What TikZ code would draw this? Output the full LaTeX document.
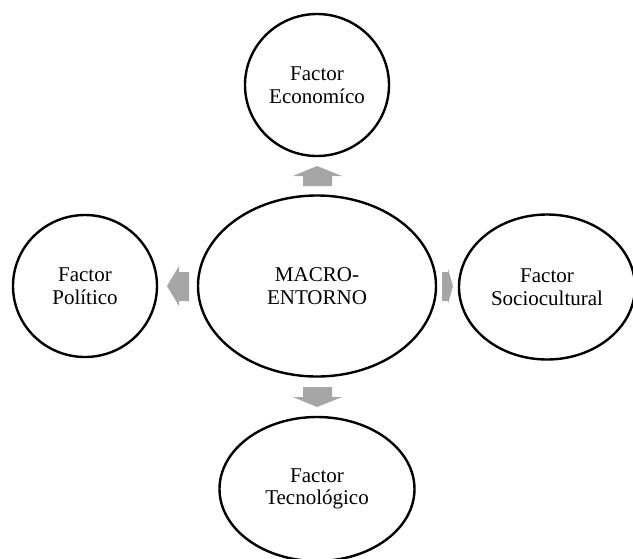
\documentclass[tikz,border=0pt]{standalone}
\usepackage{fontspec}
\setmainfont{Liberation Serif}
\usetikzlibrary{shapes.geometric}
\definecolor{arrowgray}{HTML}{A6A6A6}
\tikzset{
  bubble/.style={draw=black, line width=2.4pt, ellipse, inner sep=0pt,
    align=center, font=\fontsize{21}{22.5}\selectfont},
  blockarrow/.style={fill=arrowgray, draw=none}
}
\begin{document}
\begin{tikzpicture}[x=1pt,y=-1pt]
  \useasboundingbox (0,0) rectangle (633,558);
  \begin{scope}
  \clip (0,0) rectangle (633,558);
  % central ellipse and the four factors
  \node[bubble, minimum width=238pt, minimum height=181pt] (macro) at (317,286) {MACRO-\\ENTORNO};
  \node[bubble, minimum width=144pt, minimum height=142pt] (econ) at (317,85) {Factor\\Economíco};
  \node[bubble, minimum width=144pt, minimum height=142pt] (poli) at (85,286) {Factor\\Político};
  \node[bubble, minimum width=176pt, minimum height=145pt] (socio) at (547,287) {Factor\\Sociocultural};
  \node[bubble, minimum width=195pt, minimum height=144pt] (tecno) at (317,489) {Factor\\Tecnológico};
  \end{scope}
  % block arrows pointing from the centre outwards
  \fill[blockarrow] (317,166) -- (342,176) -- (332,176) -- (332,186) -- (303,186) -- (303,176) -- (293,176) -- cycle;
  \fill[blockarrow] (317,407) -- (342,397) -- (332,397) -- (332,387) -- (303,387) -- (303,397) -- (293,397) -- cycle;
  \fill[blockarrow] (167,286) -- (179,266) -- (179,272) -- (189,272) -- (189,301) -- (179,301) -- (179,306) -- cycle;
  \fill[blockarrow] (453,286) -- (448,269) -- (448,272) -- (442,272) -- (442,301) -- (448,301) -- (448,304) -- cycle;
\end{tikzpicture}
\end{document}
